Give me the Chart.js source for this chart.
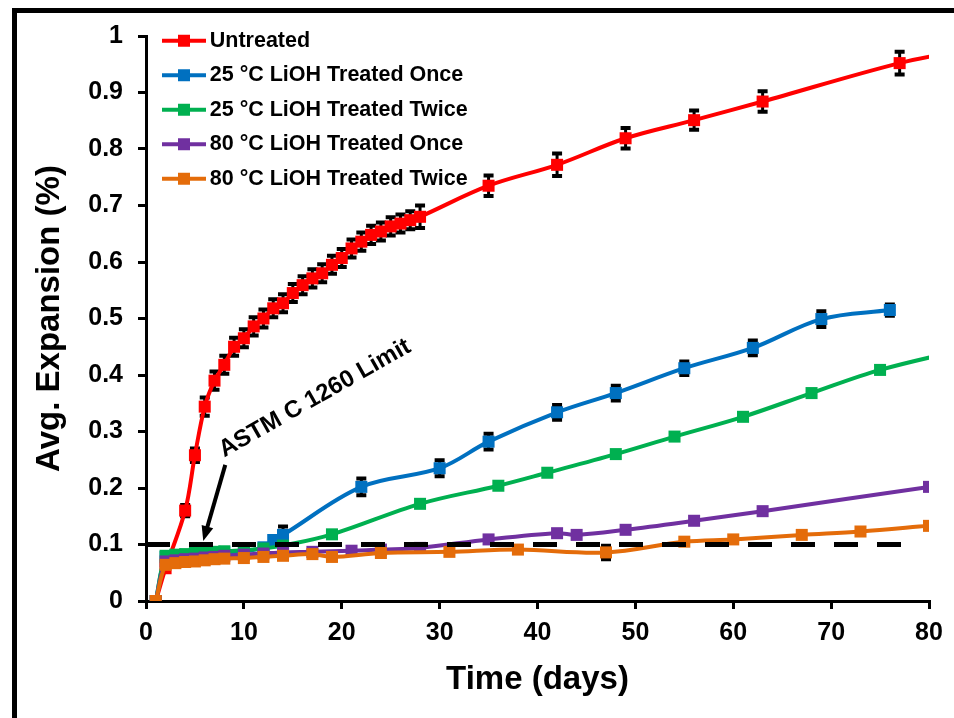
<!DOCTYPE html>
<html>
<head>
<meta charset="utf-8">
<script src="https://cdn.jsdelivr.net/npm/chart.js@4.4.1/dist/chart.umd.min.js"></script>
<style>
  html, body { margin: 0; padding: 0; background: #fff; }
  #wrap { position: relative; width: 954px; height: 718px; }
  #frame { position: absolute; left: 12px; top: 8px; right: 0; bottom: 0;
           border-left: 5px solid #000; border-top: 5px solid #000; pointer-events: none; }
</style>
</head>
<body>
<div id="wrap">
  <canvas id="expChart" width="954" height="718"></canvas>
  <div id="frame"></div>
</div>
<script>
// ---- data (days, % expansion, +/- error) ----
const untreatedDays = [1, 2, 4, 5, 6, 7, 8, 9, 10, 11, 12, 13, 14, 15, 16, 17, 18, 19, 20, 21, 22, 23, 24, 25, 26, 27, 28, 35, 42, 49, 56, 63, 77, 84];
const untreatedVals = [0, 0.058, 0.16, 0.258, 0.344, 0.39, 0.418, 0.45, 0.465, 0.486, 0.5, 0.518, 0.527, 0.545, 0.559, 0.571, 0.58, 0.595, 0.607, 0.624, 0.636, 0.648, 0.654, 0.663, 0.668, 0.674, 0.68, 0.735, 0.772, 0.819, 0.851, 0.884, 0.952, 0.976];
const untreatedErr  = [0, 0, 0.01, 0.012, 0.016, 0.016, 0.016, 0.016, 0.016, 0.016, 0.016, 0.016, 0.016, 0.016, 0.016, 0.016, 0.016, 0.016, 0.016, 0.016, 0.016, 0.016, 0.016, 0.016, 0.016, 0.016, 0.02, 0.018, 0.02, 0.018, 0.017, 0.018, 0.02, 0];

const once25Days = [1, 2, 3, 4, 5, 6, 7, 8, 10, 12, 13, 14, 22, 30, 35, 42, 48, 55, 62, 69, 76];
const once25Vals = [0, 0.078, 0.08, 0.081, 0.082, 0.084, 0.085, 0.086, 0.088, 0.095, 0.108, 0.117, 0.202, 0.235, 0.282, 0.334, 0.368, 0.412, 0.448, 0.499, 0.515];
const once25Err  = [0, 0, 0, 0, 0, 0, 0, 0, 0, 0, 0, 0.015, 0.015, 0.014, 0.014, 0.013, 0.013, 0.012, 0.013, 0.014, 0.01];

const twice25Days = [1, 2, 3, 4, 5, 6, 7, 8, 10, 12, 14, 19, 28, 36, 41, 48, 54, 61, 68, 75, 84];
const twice25Vals = [0, 0.08, 0.082, 0.083, 0.085, 0.086, 0.087, 0.088, 0.09, 0.093, 0.098, 0.118, 0.172, 0.204, 0.227, 0.26, 0.291, 0.326, 0.368, 0.409, 0.447];

const once80Days = [1, 2, 3, 4, 5, 6, 7, 8, 10, 12, 14, 17, 21, 24, 28, 35, 42, 44, 49, 56, 63, 80];
const once80Vals = [0, 0.07, 0.072, 0.074, 0.075, 0.077, 0.078, 0.08, 0.082, 0.084, 0.086, 0.087, 0.089, 0.091, 0.094, 0.109, 0.12, 0.117, 0.126, 0.142, 0.159, 0.202];

const twice80Days = [1, 2, 3, 4, 5, 6, 7, 8, 10, 12, 14, 17, 19, 24, 31, 38, 47, 55, 60, 67, 73, 80];
const twice80Vals = [0, 0.064, 0.067, 0.069, 0.07, 0.072, 0.074, 0.075, 0.076, 0.078, 0.08, 0.083, 0.078, 0.085, 0.087, 0.091, 0.086, 0.105, 0.109, 0.117, 0.123, 0.133];
const twice80Err  = [0, 0, 0, 0, 0, 0, 0, 0, 0, 0, 0, 0, 0, 0, 0, 0, 0.012, 0, 0, 0, 0, 0];

const limitDays = [0, 77.5];
const limitVals = [0.1, 0.1];

const seriesLabels = ['Untreated', '25 °C LiOH Treated Once', '25 °C LiOH Treated Twice', '80 °C LiOH Treated Once', '80 °C LiOH Treated Twice'];
const seriesColors = ['#FF0000', '#0070C0', '#00B050', '#7030A0', '#E46C0A'];

const noteText = 'ASTM C 1260 Limit';
const noteAt = { x: 8.0, y: 0.254 };
const arrowFrom = { x: 8.1, y: 0.241 };
const arrowTo = { x: 5.85, y: 0.106 };

const FONT = "'Liberation Sans', Arial, sans-serif";

function series(i, days, vals, errs) {
    const color = seriesColors[i];
    return {
        label: seriesLabels[i],
        order: 5 - i,               // later series drawn on top, like Excel
        data: days.map((d, k) => ({ x: d, y: vals[k] })),
        errors: errs,
        borderColor: color,
        backgroundColor: color,
        pointBackgroundColor: color,
        pointBorderWidth: 0,
        pointStyle: 'rect',
        pointRadius: 8.5,
        borderWidth: 4,
        tension: 0.35
    };
}

function legendIcon(color) {
    const c = document.createElement('canvas');
    c.width = 44; c.height = 14;
    const g = c.getContext('2d');
    g.strokeStyle = color; g.lineWidth = 4;
    g.beginPath(); g.moveTo(0, 7); g.lineTo(44, 7); g.stroke();
    g.fillStyle = color; g.fillRect(16, 1, 12, 12);
    return c;
}
const legendIcons = seriesColors.map(legendIcon);

// black I-shaped error bars under the markers
const errorBars = {
    id: 'errorBars',
    beforeDatasetsDraw(chart) {
        const ctx = chart.ctx;
        const yScale = chart.scales.y;
        const area = chart.chartArea;
        ctx.save();
        ctx.beginPath();
        ctx.rect(area.left, area.top - 5, area.right - area.left, area.bottom - area.top + 5);
        ctx.clip();
        ctx.strokeStyle = '#000';
        chart.data.datasets.forEach((ds, i) => {
            if (!ds.errors) return;
            const meta = chart.getDatasetMeta(i);
            meta.data.forEach((pt, j) => {
                const e = ds.errors[j];
                if (!e) return;
                const v = ds.data[j].y;
                const top = yScale.getPixelForValue(v + e);
                const bot = yScale.getPixelForValue(v - e);
                ctx.lineWidth = 3;
                ctx.beginPath();
                ctx.moveTo(pt.x, top); ctx.lineTo(pt.x, bot);
                ctx.stroke();
                ctx.lineWidth = 4;
                ctx.beginPath();
                ctx.moveTo(pt.x - 5, top); ctx.lineTo(pt.x + 5, top);
                ctx.moveTo(pt.x - 5, bot); ctx.lineTo(pt.x + 5, bot);
                ctx.stroke();
            });
        });
        ctx.restore();
    }
};

// rotated "ASTM C 1260 Limit" note with its arrow
const limitNote = {
    id: 'limitNote',
    afterDatasetsDraw(chart) {
        const { ctx, scales: { x, y } } = chart;
        ctx.save();
        const x1 = x.getPixelForValue(arrowFrom.x), y1 = y.getPixelForValue(arrowFrom.y);
        const x2 = x.getPixelForValue(arrowTo.x), y2 = y.getPixelForValue(arrowTo.y);
        const ang = Math.atan2(y2 - y1, x2 - x1);
        ctx.strokeStyle = '#000';
        ctx.fillStyle = '#000';
        ctx.lineWidth = 4;
        ctx.beginPath();
        ctx.moveTo(x1, y1);
        ctx.lineTo(x2 - 10 * Math.cos(ang), y2 - 10 * Math.sin(ang));
        ctx.stroke();
        ctx.beginPath();
        ctx.moveTo(x2, y2);
        ctx.lineTo(x2 - 15 * Math.cos(ang) + 6 * Math.sin(ang), y2 - 15 * Math.sin(ang) - 6 * Math.cos(ang));
        ctx.lineTo(x2 - 15 * Math.cos(ang) - 6 * Math.sin(ang), y2 - 15 * Math.sin(ang) + 6 * Math.cos(ang));
        ctx.closePath();
        ctx.fill();

        ctx.translate(x.getPixelForValue(noteAt.x), y.getPixelForValue(noteAt.y));
        ctx.rotate(-29.6 * Math.PI / 180);
        ctx.font = 'bold 24px ' + FONT;
        ctx.textBaseline = 'alphabetic';
        ctx.textAlign = 'left';
        ctx.fillText(noteText, 0, 0);
        ctx.restore();
    }
};

// put the legend in the upper-left corner of the plot
const legendSpot = {
    id: 'legendSpot',
    afterLayout(chart) {
        chart.legend.left = 156;
        chart.legend.top = 17;
    }
};

function loadChart() {
    const ctx = document.getElementById('expChart');

    new Chart(ctx, {
        type: 'line',
        data: {
            datasets: [
                series(0, untreatedDays, untreatedVals, untreatedErr),
                series(1, once25Days, once25Vals, once25Err),
                series(2, twice25Days, twice25Vals, null),
                series(3, once80Days, once80Vals, null),
                series(4, twice80Days, twice80Vals, twice80Err),
                {
                    label: 'limit',
                    order: 0,
                    data: limitDays.map((d, k) => ({ x: d, y: limitVals[k] })),
                    borderColor: '#000',
                    borderWidth: 5,
                    borderDash: [24, 19],
                    pointRadius: 0,
                    tension: 0
                }
            ]
        },
        options: {
            responsive: false,
            animation: false,
            layout: { padding: { left: 20, top: 36, right: 25, bottom: 10 } },
            plugins: {
                tooltip: { enabled: false },
                legend: {
                    position: 'chartArea',
                    align: 'start',
                    labels: {
                        usePointStyle: true,
                        pointStyleWidth: 30,
                        padding: 13,
                        color: '#000',
                        font: { family: FONT, size: 21.5, weight: 'bold' },
                        generateLabels(chart) {
                            const items = Chart.defaults.plugins.legend.labels.generateLabels(chart);
                            items.forEach(it => { it.pointStyle = legendIcons[it.datasetIndex]; });
                            return items;
                        },
                        filter: item => item.datasetIndex < 5,
                        sort: (a, b) => a.datasetIndex - b.datasetIndex
                    }
                }
            },
            scales: {
                x: {
                    type: 'linear',
                    min: 0,
                    max: 80,
                    ticks: { stepSize: 10, color: '#000', padding: 9, maxRotation: 0,
                             font: { family: FONT, size: 25, weight: 'bold' } },
                    grid: { drawOnChartArea: false, drawTicks: true, tickLength: 8, color: '#000', lineWidth: 3 },
                    border: { color: '#000', width: 3 },
                    title: { display: true, text: 'Time (days)', color: '#000',
                             font: { family: FONT, size: 33, weight: 'bold' }, padding: { top: 0, bottom: 8 } },
                    afterFit(scale) { scale.height = 107; }
                },
                y: {
                    min: 0,
                    max: 1,
                    ticks: { stepSize: 0.1, color: '#000', padding: 15,
                             font: { family: FONT, size: 25, weight: 'bold' },
                             callback: v => String(+v.toFixed(1)) },
                    grid: { drawOnChartArea: false, drawTicks: true, tickLength: 8, color: '#000', lineWidth: 3 },
                    border: { color: '#000', width: 3 },
                    title: { display: true, text: 'Avg. Expansion (%)', color: '#000',
                             font: { family: FONT, size: 33, weight: 'bold' }, padding: { top: 10, bottom: 0 } },
                    afterFit(scale) { scale.width = 126; }
                }
            }
        },
        plugins: [errorBars, limitNote, legendSpot]
    });
}

loadChart();
</script>
</body>
</html>
